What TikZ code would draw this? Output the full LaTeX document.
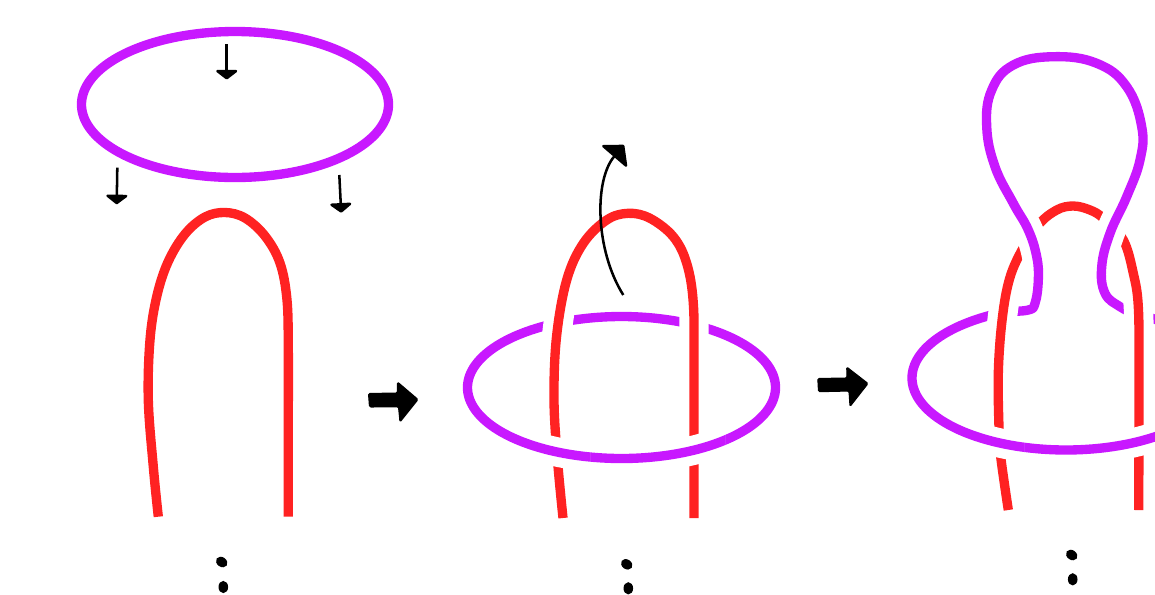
\documentclass[tikz,border=0pt]{standalone}
\usetikzlibrary{arrows.meta}
\definecolor{kpurple}{RGB}{200,24,255}
\definecolor{kred}{RGB}{255,34,34}
\begin{document}
\begin{tikzpicture}[x=0.75pt,y=-0.75pt,line join=round,
  pur/.style={draw=kpurple,line width=7pt},
  rd/.style={draw=kred,line width=7pt},
  halo/.style={draw=white,line width=7.5pt,double=#1,double distance=7pt},
  thinarrow/.style={line width=1.9pt,-{Triangle[length=7.5pt,width=19pt,round]}},
  bigarrow/.style={fill=black,draw=black,line width=0.8pt,rounded corners=1pt},
  dotmark/.style={fill=black}]
\fill[white] (0,0) rectangle (1155,594);
\useasboundingbox (0,0) rectangle (1155,594);
% paths
\def\ellone{plot[domain=0:360,samples=181,variable=\ang] ({235+153.5*cos(\ang)},{104.5+73*sin(\ang)}) -- cycle}
\def\elltwo{plot[domain=0:360,samples=181,variable=\ang] ({621.5+154*cos(\ang)},{387.5+71*sin(\ang)}) -- cycle}
\def\ellthree{plot[domain=-61:246,samples=160,variable=\ang] ({1066+154*cos(\ang)},{378+72*sin(\ang)})}
\def\redone{plot[smooth,tension=0.6] coordinates {(158.3,516.7) (153.3,466.7) (148.3,400) (150,340) (156.7,296.7) (168,262) (185,234) (205,217) (225,212.5) (245,218) (265,236) (280,263) (287,300) (288.3,350) (288.3,420) (288.3,516.7)}}
\def\redtwo{plot[smooth,tension=0.6] coordinates {(563,518) (557.5,460) (554,400) (556.5,337) (566.7,280) (583.3,243.3) (606.7,220) (628.3,213.3) (650,218.3) (673.3,236.7) (686.7,263.3) (693.3,303.3) (694,370) (694,518)}}
\def\redthree{plot[smooth,tension=0.6] coordinates {(1008.3,510) (1000.7,456.7) (999,428) (998.3,373.3) (1001.7,323.3) (1008.3,283.3) (1019.3,255) (1038.3,225) (1056.7,210) (1073.3,206) (1090,210) (1103.3,218.3) (1123.3,240) (1133.3,273.3) (1138.3,306.7) (1139,373) (1138.7,510)}}
\def\loopthree{plot[smooth,tension=0.7] coordinates {(1008,311.3) (1028.3,310) (1035,303.3) (1038.3,280) (1036.7,256.7) (1028.3,230) (1013.3,203.3) (995,166.7) (986.7,126.7) (991.7,90) (1013.3,65) (1053.3,56.7) (1096.7,63.3) (1126.7,86.7) (1141.7,126.7) (1140,160) (1126.7,196.7) (1110,233.3) (1101.7,266.7) (1105,293.3) (1120,306.7) (1133,313)}}

% ---------- panel 1
\draw[pur] \ellone;
\draw[rd] \redone;
\draw[thinarrow] (226.7,44) -- (226.7,79.5);
\draw[thinarrow] (117.3,167.7) -- (116.7,204.3);
\draw[thinarrow] (339.3,175) -- (341.2,212.7);
\fill[dotmark,rotate around={-35:(221.7,562)}] (221.7,562) ellipse [x radius=4.6pt, y radius=3.6pt];
\fill[dotmark] (223.3,587) ellipse [x radius=3.6pt, y radius=4.6pt];

% ---------- arrow 1
\filldraw[bigarrow] (368.5,393.5) -- (397.5,393) -- (397.5,382) -- (418,399.5) -- (400,422) -- (398.5,406.7) -- (369.5,407) -- cycle;

% ---------- panel 2
\draw[pur] \elltwo;
\draw[rd] \redtwo;
\begin{scope}\clip (535,300) rectangle (580,345); \draw[halo=kred] \redtwo; \end{scope}
\begin{scope}\clip (672,300) rectangle (716,345); \draw[halo=kred] \redtwo; \end{scope}
\begin{scope}\clip (530,428) rectangle (590,478); \draw[halo=kpurple] \elltwo; \end{scope}
\begin{scope}\clip (665,425) rectangle (725,478); \draw[halo=kpurple] \elltwo; \end{scope}
\draw[line width=1.9pt,-{Triangle[length=12pt,width=27pt,round]}] (623.3,295) .. controls (595,250) and (594,180) .. (624,145);
\fill[dotmark,rotate around={-35:(626.7,564.3)}] (626.7,564.3) ellipse [x radius=4.6pt, y radius=3.6pt];
\fill[dotmark] (628.3,588.3) ellipse [x radius=3.6pt, y radius=4.6pt];

% ---------- arrow 2
\filldraw[bigarrow] (817.8,378.5) -- (847,378) -- (846.7,367) -- (868,383.5) -- (850,406.5) -- (849,391) -- (818.5,391.7) -- cycle;

% ---------- panel 3
\draw[pur] \ellthree;
\draw[pur] \loopthree;
\draw[rd] \redthree;
\begin{scope}\clip (985,295) rectangle (1020,330); \draw[halo=kred] \redthree; \end{scope}
\begin{scope}\clip (1118,295) rectangle (1155,332); \draw[halo=kred] \redthree; \end{scope}
\begin{scope}\clip (1010,218) rectangle (1050,266); \draw[halo=kpurple] \loopthree; \end{scope}
\begin{scope}\clip (1092,205) rectangle (1136,255); \draw[halo=kpurple] \loopthree; \end{scope}
\begin{scope}\clip (978,422) rectangle (1024,468); \draw[halo=kpurple] \ellthree; \end{scope}
\begin{scope}\clip (1112,420) rectangle (1155,470); \draw[halo=kpurple] \ellthree; \end{scope}
\fill[dotmark,rotate around={-35:(1071.7,555)}] (1071.7,555) ellipse [x radius=4.6pt, y radius=3.6pt];
\fill[dotmark] (1072.7,579.3) ellipse [x radius=3.6pt, y radius=4.6pt];
\end{tikzpicture}
\end{document}
